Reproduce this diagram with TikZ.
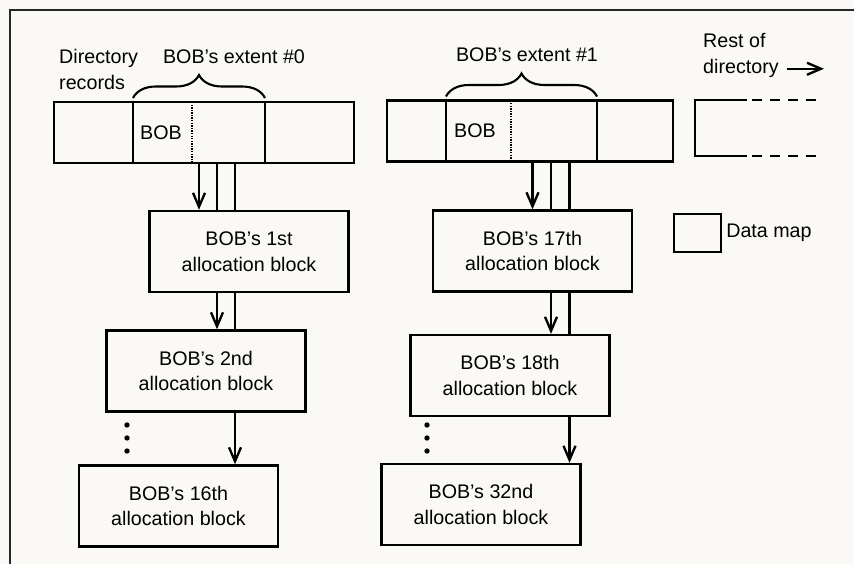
\documentclass[tikz,border=0pt]{standalone}
\usepackage{fontspec}
\setmainfont{Liberation Sans}
\usetikzlibrary{arrows.meta, positioning, decorations.pathreplacing}
\definecolor{paper}{RGB}{251,249,246}

\begin{document}
\begin{tikzpicture}[
    x=0.03cm, y=-0.03cm,
    font=\fontsize{16.8}{22}\selectfont,
    cell/.style={draw, rectangle, outer sep=0pt, minimum height=1.83cm, line width=2pt},
    block/.style={draw, rectangle, minimum width=5.97cm, minimum height=2.43cm, align=center, line width=2pt},
    txt/.style={align=left, inner sep=0pt},
    arrow/.style={line width=2pt, -{Straight Barb[length=0.42cm, width=0.36cm, line width=2pt]}},
    link/.style={line width=2pt},
    extbrace/.style={decorate, decoration={brace, amplitude=0.69cm, raise=0.12cm}, line width=1.8pt}
]
    % Page and frame
    \useasboundingbox (0,0) rectangle (854,564);
    \fill[paper] (0,0) rectangle (854,564);
    \draw[line width=1.8pt, black!85] (10,564) -- (10,10) -- (854,10);

    % Directory records, first extent
    \node[cell, minimum width=2.37cm, anchor=west] (rec0a) at (54,132.5) {};
    \node[cell, minimum width=3.96cm, right=0pt of rec0a] (ext0) {};
    \node[cell, minimum width=2.67cm, right=0pt of ext0] (rec0d) {};
    \draw[line width=1.2pt, densely dotted] ([xshift=1.77cm]ext0.north west) -- ([xshift=1.77cm]ext0.south west);
    \node[anchor=west, inner sep=0pt] (bob0) at ([xshift=0.21cm]ext0.west) {BOB};

    % Directory records, second extent
    \node[cell, minimum width=1.77cm, anchor=west] (rec1a) at (387,131) {};
    \node[cell, minimum width=4.53cm, right=0pt of rec1a] (ext1) {};
    \node[cell, minimum width=2.28cm, right=0pt of ext1] (rec1d) {};
    \draw[line width=1.2pt, densely dotted] ([xshift=1.95cm]ext1.north west) -- ([xshift=1.95cm]ext1.south west);
    \node[anchor=west, inner sep=0pt] (bob1) at ([xshift=0.24cm]ext1.west) {BOB};

    % Rest of the directory
    \draw[link] (747,100) -- (695,100) -- (695,156) -- (747,156);
    \draw[link, dash pattern=on 0.3cm off 0.24cm] (752,100) -- (817,100);
    \draw[link, dash pattern=on 0.3cm off 0.24cm] (752,156) -- (817,156);

    % Labels and braces
    \node[txt, anchor=west] (dirrec) at (59,69.5) {Directory\\records};
    \node (ext0lbl) at (234,57) {BOB's extent \#0};
    \node (ext1lbl) at (527,55) {BOB's extent \#1};
    \draw[extbrace] (ext0.north west) -- (ext0.north east);
    \draw[extbrace] (ext1.north west) -- (ext1.north east);
    \node[txt, anchor=west] (restdir) at (703,55.5) {Rest of\\directory};
    \draw[arrow] ([xshift=0.24cm,yshift=0.27cm]restdir.south east) -- ++(37,0);

    % Legend
    \node[draw, minimum width=1.41cm, minimum height=1.14cm, line width=2pt] (mapkey) at (697.5,233) {};
    \node[right=0pt of mapkey] (mapkeylbl) {Data map};

    % Allocation blocks
    \node[block] (blk1) at (249,251.5) {BOB's 1st\\allocation block};
    \node[block] (blk2) at (206,371) {BOB's 2nd\\allocation block};
    \node[block] (blk16) at (178.5,506) {BOB's 16th\\allocation block};
    \node[block] (blk17) at (532.5,251) {BOB's 17th\\allocation block};
    \node[block] (blk18) at (510,375.5) {BOB's 18th\\allocation block};
    \node[block] (blk32) at (481,504.5) {BOB's 32nd\\allocation block};

    % Omitted blocks
    \foreach \y in {425,438,451} {
        \fill (127,\y) circle (2.3pt);
        \fill (427,\y) circle (2.3pt);
    }

    % Data map pointers, extent #0
    \coordinate (a0) at ([xshift=-1.5cm]blk1.north);
    \coordinate (a1) at ([xshift=-0.96cm]blk1.north);
    \coordinate (a2) at ([xshift=-0.42cm]blk1.north);
    \draw[arrow] (a0 |- ext0.south) -- (a0);
    \draw[link] (a1 |- ext0.south) -- (a1);
    \draw[link] (a2 |- ext0.south) -- (a2);
    \draw[arrow] (a1 |- blk1.south) -- (a1 |- blk2.north);
    \draw[link] (a2 |- blk1.south) -- (a2 |- blk2.north);
    \draw[arrow] (a2 |- blk2.south) -- (a2 |- blk16.north);

    % Data map pointers, extent #1
    \coordinate (b0) at (blk17.north);
    \coordinate (b1) at ([xshift=0.555cm]blk17.north);
    \coordinate (b2) at ([xshift=1.11cm]blk17.north);
    \draw[arrow] (b0 |- ext1.south) -- (b0);
    \draw[link] (b1 |- ext1.south) -- (b1);
    \draw[link] (b2 |- ext1.south) -- (b2);
    \draw[arrow] (b1 |- blk17.south) -- (b1 |- blk18.north);
    \draw[link] (b2 |- blk17.south) -- (b2 |- blk18.north);
    \draw[arrow] (b2 |- blk18.south) -- (b2 |- blk32.north);

\end{tikzpicture}
\end{document}
